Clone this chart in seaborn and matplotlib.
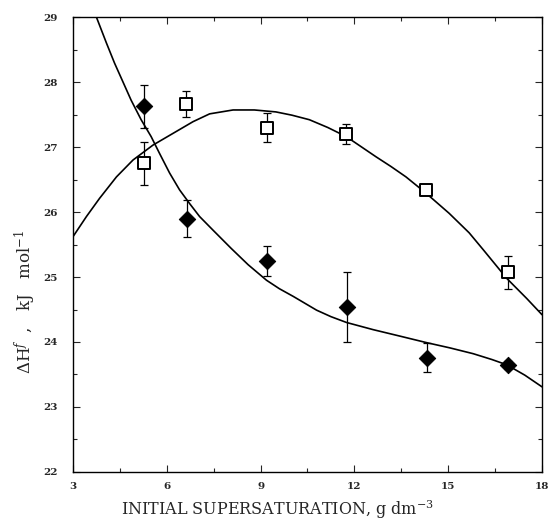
import numpy as np
import pandas as pd
import matplotlib
matplotlib.use("Agg")
import matplotlib.pyplot as plt
import seaborn as sns
from matplotlib.ticker import MultipleLocator

# Measured enthalpies (kJ/mol) vs. initial supersaturation (g/dm^3)
sq_x = [5.27, 6.61, 9.19, 11.74, 14.29, 16.92]
sq_y = [26.75, 27.66, 27.30, 27.20, 26.34, 25.07]
sq_err = [0.33, 0.20, 0.23, 0.16, 0.07, 0.26]

dia_x = [5.27, 6.65, 9.19, 11.76, 14.31, 16.92]
dia_y = [27.63, 25.90, 25.25, 24.54, 23.76, 23.65]
dia_err = [0.33, 0.28, 0.23, 0.54, 0.22, 0.06]

# Fitted curves
sq_fit_x = [3.0, 3.43, 3.85, 4.39, 4.92, 5.56, 6.20, 6.84, 7.37, 8.12, 8.80,
            9.49, 10.0, 10.56, 11.15, 11.74, 12.20, 12.69, 13.17, 13.65, 14.29,
            15.03, 15.67, 16.12, 16.87, 17.51, 18.0]
sq_fit_y = [25.62, 25.93, 26.21, 26.54, 26.80, 27.03, 27.21, 27.39, 27.51, 27.57, 27.57,
            27.54, 27.49, 27.42, 27.30, 27.16, 27.01, 26.85, 26.70, 26.54, 26.29,
            25.98, 25.68, 25.42, 24.98, 24.67, 24.42]

dia_fit_x = [3.70, 4.07, 4.33, 4.60, 4.86, 5.18, 5.50, 5.77, 6.09, 6.41, 6.73,
             7.05, 7.48, 8.06, 8.60, 9.19, 9.60, 10.05, 10.79, 11.25, 11.75, 12.60,
             13.46, 14.31, 15.05, 15.80, 16.40, 16.87, 17.45, 18.0]
dia_fit_y = [29.06, 28.60, 28.29, 28.00, 27.72, 27.42, 27.16, 26.90, 26.60, 26.34, 26.13,
             25.93, 25.72, 25.44, 25.19, 24.95, 24.82, 24.70, 24.49, 24.39, 24.30, 24.19,
             24.09, 23.99, 23.91, 23.82, 23.73, 23.65, 23.49, 23.31]

x_ticks = [3, 6, 9, 12, 15, 18]
y_ticks = [22, 23, 24, 25, 26, 27, 28, 29]

sns.set_theme(style="ticks")
plt.rcParams["font.family"] = ["DejaVu Serif"]
plt.rcParams["mathtext.fontset"] = "dejavuserif"

fig = plt.figure(figsize=(5.52, 5.22), dpi=100)
ax = fig.add_axes([0.1322, 0.0958, 0.8497, 0.8716])

sq_fit = pd.DataFrame({"x": sq_fit_x, "y": sq_fit_y})
dia_fit = pd.DataFrame({"x": dia_fit_x, "y": dia_fit_y})
sns.lineplot(data=sq_fit, x="x", y="y", ax=ax, color="black", lw=1.2, sort=True)
sns.lineplot(data=dia_fit, x="x", y="y", ax=ax, color="black", lw=1.2, sort=True)

ax.errorbar(sq_x, sq_y, yerr=sq_err, fmt="none", ecolor="black",
            elinewidth=0.9, capsize=2.6, capthick=0.9, zorder=3)
ax.errorbar(dia_x, dia_y, yerr=dia_err, fmt="none", ecolor="black",
            elinewidth=0.9, capsize=2.6, capthick=0.9, zorder=3)

sq = pd.DataFrame({"x": sq_x, "y": sq_y})
dia = pd.DataFrame({"x": dia_x, "y": dia_y})
sns.scatterplot(data=sq, x="x", y="y", ax=ax, marker="s", s=70,
                facecolor="white", edgecolor="black", linewidth=1.4, zorder=4)
sns.scatterplot(data=dia, x="x", y="y", ax=ax, marker="D", s=70,
                color="black", edgecolor="black", zorder=4)

ax.set_xlim(3, 18)
ax.set_ylim(22, 29)
ax.set_xticks(x_ticks)
ax.set_yticks(y_ticks)
ax.xaxis.set_minor_locator(MultipleLocator(1.5))
ax.yaxis.set_minor_locator(MultipleLocator(0.5))
ax.tick_params(which="both", direction="in", top=True, right=True,
               labelsize=7.5, width=0.8)
ax.tick_params(axis="x", pad=7)
ax.tick_params(axis="y", pad=11)
ax.tick_params(which="major", length=5)
ax.tick_params(which="minor", length=3)
for lab in ax.get_xticklabels() + ax.get_yticklabels():
    lab.set_fontweight("bold")
for sp in ax.spines.values():
    sp.set_linewidth(1.0)
    sp.set_color("black")

ax.set_xlabel(r"INITIAL SUPERSATURATION, g dm$^{-3}$", fontsize=11.5)
ax.xaxis.set_label_coords(0.436, -0.0945)
ax.xaxis.label.set_verticalalignment("baseline")

ax.set_ylabel(r"$\Delta$H$^{f}$  ,   kJ   mol$^{-1}$", fontsize=12)
ax.yaxis.set_label_coords(-0.0896, 0.3736)
ax.yaxis.label.set_verticalalignment("baseline")

fig.savefig("out.png", dpi=100)
